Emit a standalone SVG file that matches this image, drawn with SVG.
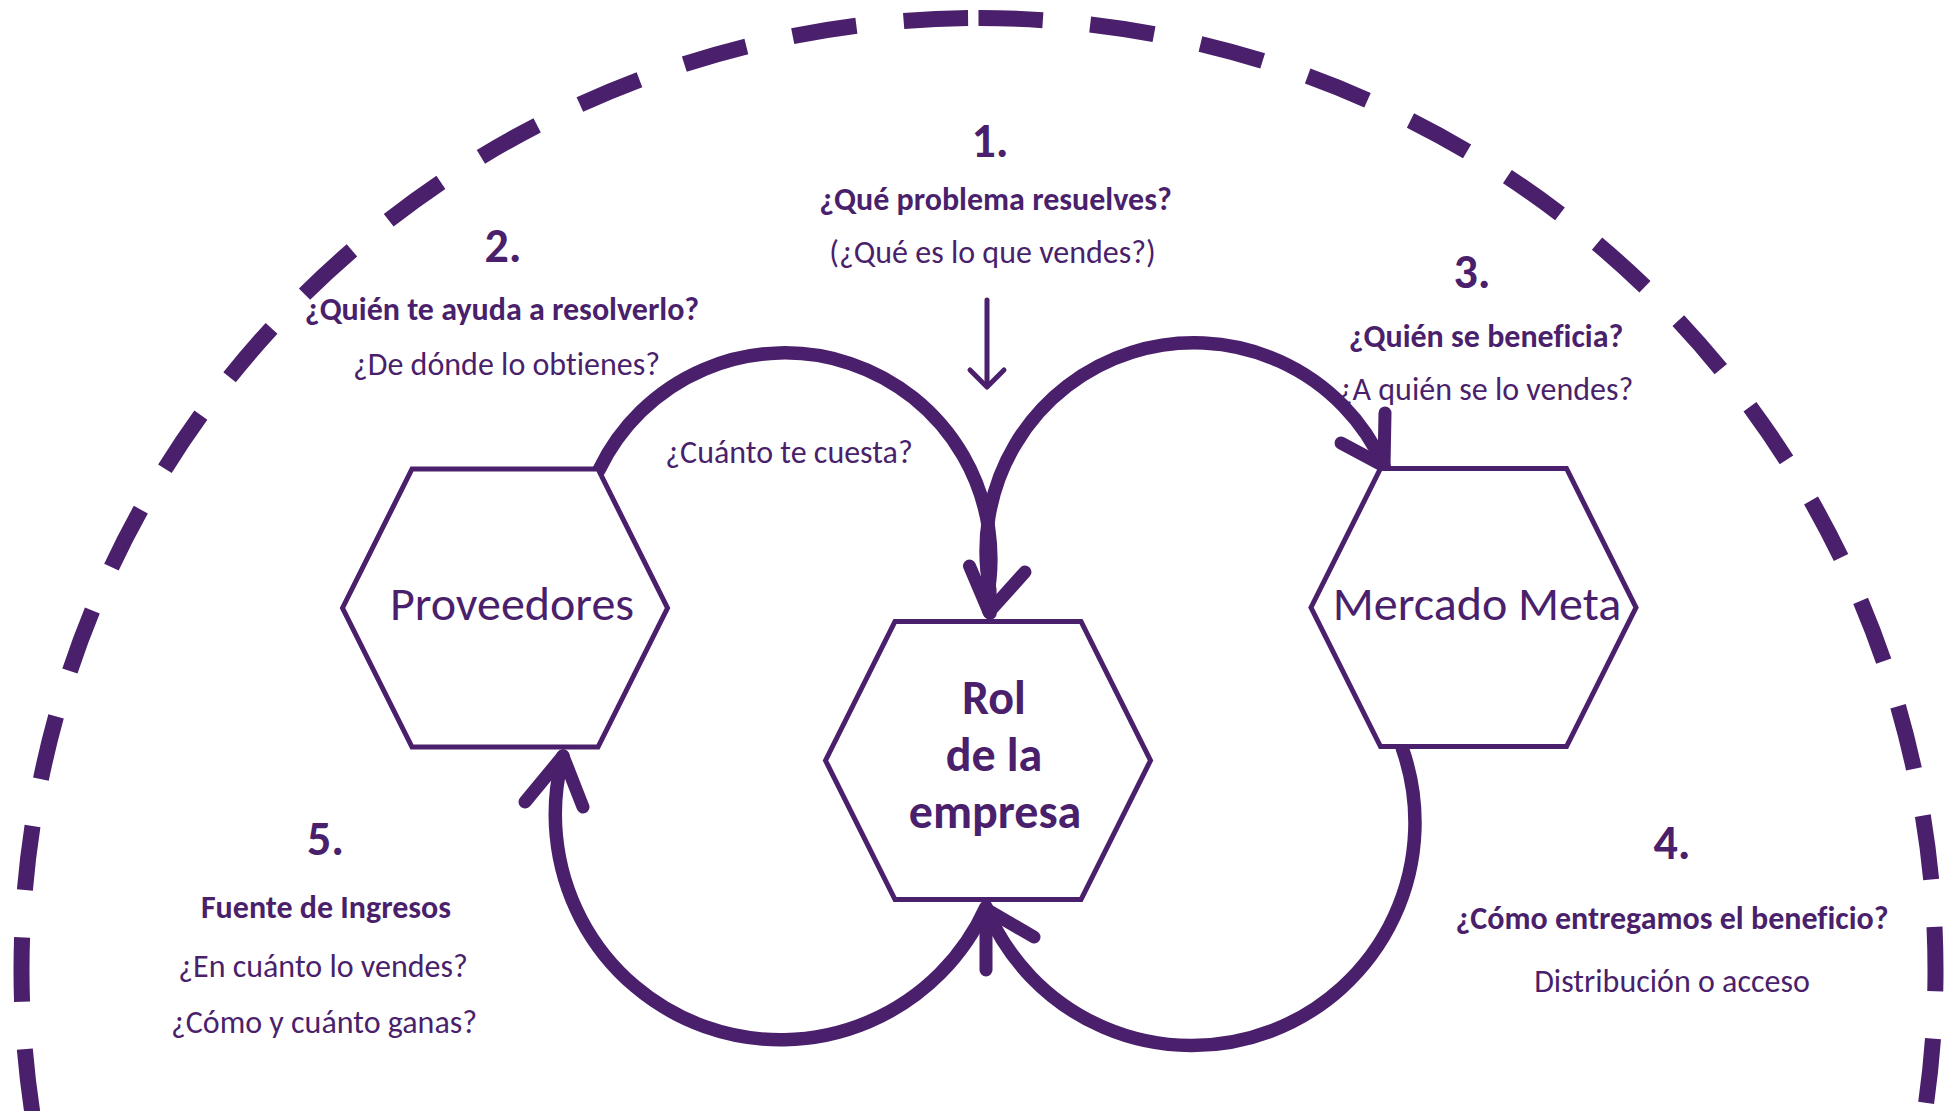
<svg xmlns="http://www.w3.org/2000/svg" width="1949" height="1111" viewBox="0 0 1949 1111">
<style>
  text { font-family: Carlito, Calibri, Lato, sans-serif; fill: #4a1f6b; text-anchor: middle; font-variant-ligatures: none; font-feature-settings: "liga" 0, "clig" 0; }
  .b { font-weight: bold; }
  .q { font-size: 32px; }
  .n { font-size: 48px; font-weight: bold; }
  .big { font-size: 48px; }
  .hex { fill: #ffffff; stroke: #4a1f6b; stroke-width: 5; stroke-linejoin: miter; }
  .arc { fill: none; stroke: #4a1f6b; stroke-width: 13.5; stroke-linecap: round; }
  .head { fill: none; stroke: #4a1f6b; stroke-width: 13; stroke-linecap: round; stroke-linejoin: round; }
  .thin { fill: none; stroke: #4a1f6b; stroke-width: 5; stroke-linecap: round; stroke-linejoin: round; }
  .dash { fill: none; stroke: #4a1f6b; stroke-width: 16; stroke-dasharray: 64.5 47.5; }
</style>
<rect width="1949" height="1111" fill="#ffffff"/>

<g id="boundary">
  <path class="dash" d="M978.5,18 A957,952 0 0 1 1935.5,970 A957,952 0 0 1 978.5,1922"/>
  <path class="dash" stroke-dashoffset="101.5" d="M978.5,18 A957,952 0 0 0 21.5,970 A957,952 0 0 0 978.5,1922"/>
</g>

<g id="connectors">
  <path class="arc" d="M599,470 A206,206 0 0 1 986.7,600 L989,611"/>
  <polyline class="head" points="969.5,566 989,612 1025,572"/>
  <path class="arc" d="M990,613 L989.8,590 A208,208 0 0 1 1384,466"/>
  <polyline class="head" points="1341,443 1384,466 1385,413"/>
  <path class="arc" d="M1402.5,749 A223,223 0 0 1 986,908"/>
  <polyline class="head" points="986,970 986,909 1034,937"/>
  <path class="arc" d="M986,907 A225.3,225.3 0 0 1 563,756"/>
  <polyline class="head" points="525,802 563,756 583,807"/>
  <line class="thin" x1="987" y1="300" x2="987" y2="386"/>
  <polyline class="thin" points="970,370 987,387 1004,370"/>
</g>

<g id="node-proveedores">
  <polygon class="hex" points="342.5,608 412,469 598,469 667.5,608 598,747 412,747"/>
  <text class="big" x="512" y="620">Proveedores</text>
</g>
<g id="node-rol">
  <polygon class="hex" points="825.5,760.5 895,621.5 1081,621.5 1150.5,760.5 1081,899.5 895,899.5"/>
  <text class="big b" x="994" y="714">Rol</text>
  <text class="big b" x="994" y="771">de la</text>
  <text class="big b" x="995" y="828">empresa</text>
</g>
<g id="node-mercado">
  <polygon class="hex" points="1311,607.5 1380.5,468.5 1566.5,468.5 1636,607.5 1566.5,746.5 1380.5,746.5"/>
  <text class="big" x="1477" y="620">Mercado Meta</text>
</g>

<g id="label-1">
  <text class="n" x="990" y="157">1.</text>
  <text class="q b" x="995.5" y="210">¿Qué problema resuelves?</text>
  <text class="q" x="992.5" y="263">(¿Qué es lo que vendes?)</text>
</g>
<g id="label-2">
  <text class="n" x="503" y="262">2.</text>
  <text class="q b" x="502" y="320">¿Quién te ayuda a resolverlo?</text>
  <text class="q" x="506.5" y="375">¿De dónde lo obtienes?</text>
  <text class="q" x="789" y="463">¿Cuánto te cuesta?</text>
</g>
<g id="label-3">
  <text class="n" x="1472" y="288">3.</text>
  <text class="q b" x="1486" y="347">¿Quién se beneficia?</text>
  <text class="q" x="1485.5" y="400">¿A quién se lo vendes?</text>
</g>
<g id="label-4">
  <text class="n" x="1672" y="859">4.</text>
  <text class="q b" x="1672" y="928.5">¿Cómo entregamos el beneficio?</text>
  <text class="q" x="1672" y="992">Distribución o acceso</text>
</g>
<g id="label-5">
  <text class="n" x="325.5" y="855">5.</text>
  <text class="q b" x="326" y="918">Fuente de Ingresos</text>
  <text class="q" x="323" y="977">¿En cuánto lo vendes?</text>
  <text class="q" x="324" y="1033">¿Cómo y cuánto ganas?</text>
</g>
</svg>
